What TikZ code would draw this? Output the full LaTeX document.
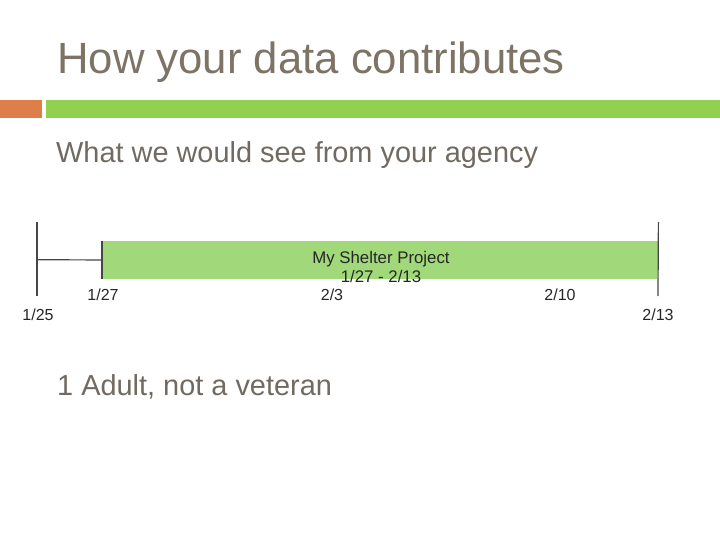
\documentclass[tikz,border=0pt]{standalone}
\usepackage{fontspec}
\setmainfont{Liberation Sans}
\usepackage{xcolor}
\definecolor{titulo}{RGB}{126,116,102}
\definecolor{texto}{RGB}{112,106,98}
\definecolor{naranja}{RGB}{222,126,72}
\definecolor{verdebarra}{RGB}{146,208,80}
\definecolor{verdeproy}{RGB}{160,216,122}
\definecolor{linea}{RGB}{70,70,70}
\tikzset{
  etiqueta/.style={inner sep=0pt, font=\fontsize{16}{16}\selectfont, text=black!85},
  marca/.style={draw=linea, line width=1.2pt}
}

\begin{document}
\begin{tikzpicture}[x=1pt, y=-1pt]
            \useasboundingbox (0,0) rectangle (720,540);

            % Titulo y barras de cabecera
            \node (titulo) at (57,74) [anchor=base west, inner sep=0pt, text=titulo, font=\fontsize{43.7}{44}\selectfont] {How your data contributes};
            \fill[naranja] (0,100) rectangle (42,118);
            \fill[verdebarra] (46,100) rectangle (720,118);

            % Subtitulo
            \node (sub) at (56,163) [anchor=base west, inner sep=0pt, text=texto, font=\fontsize{28.9}{29}\selectfont] {What we would see from your agency};

            % Linea de tiempo
            \coordinate (ini) at (37,259.75);
            \node (proy) at (102,241) [anchor=north west, fill=verdeproy, minimum width=556pt, minimum height=37.5pt, inner sep=0pt] {};
            \draw[marca] (37,222) -- (37,296);
            \draw[marca] (proy.north east) ++(0,-19) -- (658,296);
            \draw[marca] (proy.north west) -- (proy.south west);
            \draw[marca] (ini) -- (proy.west);
            \node (texto) at (381,267) [etiqueta, align=center, font=\fontsize{16.8}{17}\selectfont] {My Shelter Project\\[2pt]1/27 - 2/13};

            % Etiquetas de fechas
            \node (f1) at (38,315) [etiqueta] {1/25};
            \node (f2) at (103,295) [etiqueta] {1/27};
            \node (f3) at (332,295) [etiqueta] {2/3};
            \node (f4) at (560,295) [etiqueta] {2/10};
            \node (f5) at (658,315) [etiqueta] {2/13};

            % Texto inferior
            \node (nota) at (57,395) [anchor=base west, inner sep=0pt, text=texto, font=\fontsize{28.9}{29}\selectfont] {1 Adult, not a veteran};
        \end{tikzpicture}
\end{document}
